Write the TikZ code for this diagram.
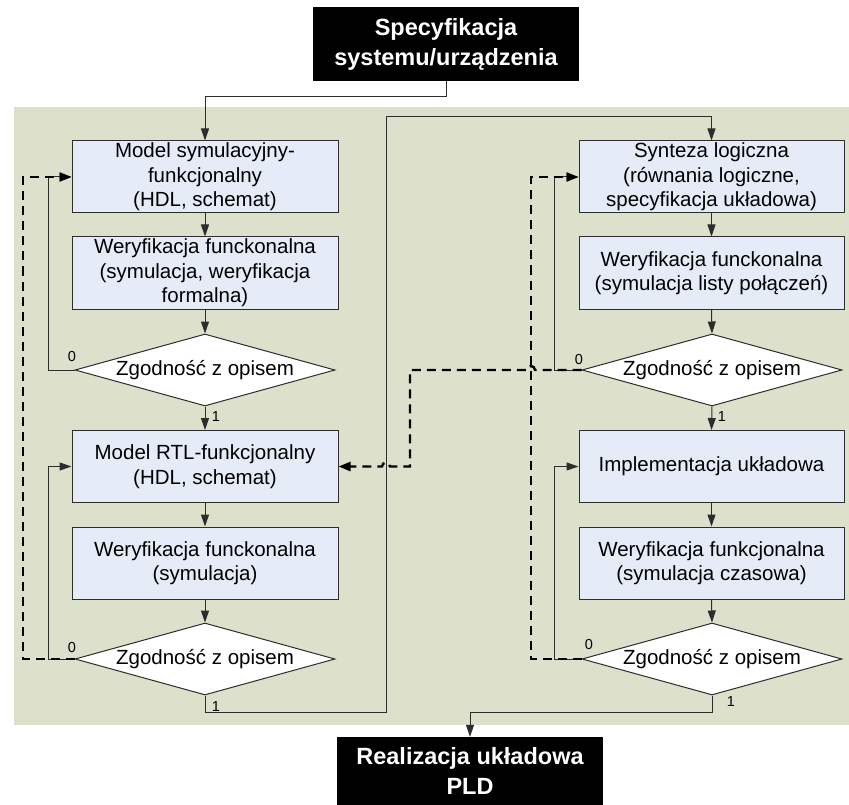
\documentclass[tikz,border=0pt]{standalone}
\usepackage{fontspec}
\setmainfont{Liberation Sans}
\usetikzlibrary{arrows.meta,shapes.geometric}
\definecolor{panelgreen}{RGB}{221,224,202}
\definecolor{boxblue}{RGB}{229,236,248}
\definecolor{edgegray}{RGB}{45,45,45}

\begin{document}
\begin{tikzpicture}[x=1pt,y=-1pt,
  stepbox/.style={draw=edgegray,line width=1pt,fill=boxblue,
    minimum width=266pt,minimum height=72pt,inner sep=0pt,align=center,
    font=\fontsize{20.5}{24.5}\selectfont},
  decision/.style={diamond,draw=edgegray,line width=1pt,fill=white,
    aspect=3.6,inner sep=0pt,minimum width=260pt,minimum height=72pt,
    font=\fontsize{20.5}{24.5}\selectfont},
  terminal/.style={fill=black,text=white,minimum width=266pt,inner sep=0pt,
    align=center,font=\fontsize{23.5}{30}\selectfont\bfseries},
  flow/.style={draw=edgegray,line width=1pt,
    -{Triangle[length=12pt,width=8pt]}},
  back/.style={draw=black,line width=2.4pt,dash pattern=on 9pt off 6pt,
    -{Triangle[length=12pt,width=9pt]}},
  branch/.style={font=\fontsize{14.5}{16}\selectfont,inner sep=0pt}
]
\useasboundingbox (0,0) rectangle (849,805);

% panel behind the two design columns
\fill[panelgreen] (14,107) rectangle (849,725);

% start and end of the flow
\node[terminal,minimum height=74pt] (spec) at (446,44) {Specyfikacja\\systemu/urządzenia};
\node[terminal,minimum height=68pt] (pld) at (470,771) {Realizacja układowa\\PLD};

% left column: functional modelling
\node[stepbox] (b1) at (205,177) {Model symulacyjny-\\funkcjonalny\\(HDL, schemat)};
\node[stepbox] (b2) at (205,273) {Weryfikacja funckonalna\\(symulacja, weryfikacja\\formalna)};
\node[decision] (d1) at (205,370) {Zgodność z opisem};
\node[stepbox] (b3) at (205,466.5) {Model RTL-funkcjonalny\\(HDL, schemat)};
\node[stepbox] (b4) at (205,563) {Weryfikacja funckonalna\\(symulacja)};
\node[decision] (d2) at (205,659) {Zgodność z opisem};

% right column: synthesis and implementation
\node[stepbox,minimum width=265pt] (b5) at (711.5,177) {Synteza logiczna\\(równania logiczne,\\specyfikacja układowa)};
\node[stepbox,minimum width=265pt] (b6) at (711.5,273) {Weryfikacja funckonalna\\(symulacja listy połączeń)};
\node[decision] (d3) at (712,370) {Zgodność z opisem};
\node[stepbox,minimum width=265pt] (b7) at (711.5,466.5) {Implementacja układowa};
\node[stepbox,minimum width=265pt] (b8) at (711.5,563) {Weryfikacja funkcjonalna\\(symulacja czasowa)};
\node[decision] (d4) at (712,659) {Zgodność z opisem};

% branch labels
\node[branch] (z1) at (72,357) {0};
\node[branch] (o1) at (216,417) {1};
\node[branch] (z2) at (72,648) {0};
\node[branch] (o2) at (216,707) {1};
\node[branch] (z3) at (579,360) {0};
\node[branch] (o3) at (722,417) {1};
\node[branch] (z4) at (589,645) {0};
\node[branch] (o4) at (731,702) {1};

% main forward flow
\draw[flow] (spec.south) -- (446,97) -| (b1.north);
\draw[flow] (b1.south) -- (b2.north);
\draw[flow] (b2.south) -- (d1.north);
\draw[flow] (d1.south) -- (b3.north);
\draw[flow] (b3.south) -- (b4.north);
\draw[flow] (b4.south) -- (d2.north);
\draw[flow] (d2.south) -- (205,712) -- (386,712) -- (386,117) -| (b5.north);
\draw[flow] (b5.south) -- (b6.north);
\draw[flow] (b6.south) -- (d3.north);
\draw[flow] (d3.south) -- (b7.north);
\draw[flow] (b7.south) -- (b8.north);
\draw[flow] (b8.south) -- (d4.north);
\draw[flow] (d4.south) -- (712,712) -| (pld.north);

% local repeat loops
\draw[flow] (d1.west) -- (48,370) |- (b1.west);
\draw[flow] (d2.west) -- (48,659) |- (b3.west);
\draw[flow] (d3.west) -- (554,370) |- (b5.west);
\draw[flow] (d4.west) -- (554,659) |- (b7.west);

% returns to earlier stages
\draw[back] (d2.west) -- (23,659) |- (b1.west);
\draw[back] (d4.west) -- (531,659) |- (b5.west);
\draw[back] (d3.west) -- (535,370) arc[start angle=0,end angle=180,radius=4pt]
  -- (410,370) -- (410,466.5) -- (390,466.5)
  arc[start angle=0,end angle=180,radius=4pt] -- (b3.east);
\end{tikzpicture}
\end{document}
